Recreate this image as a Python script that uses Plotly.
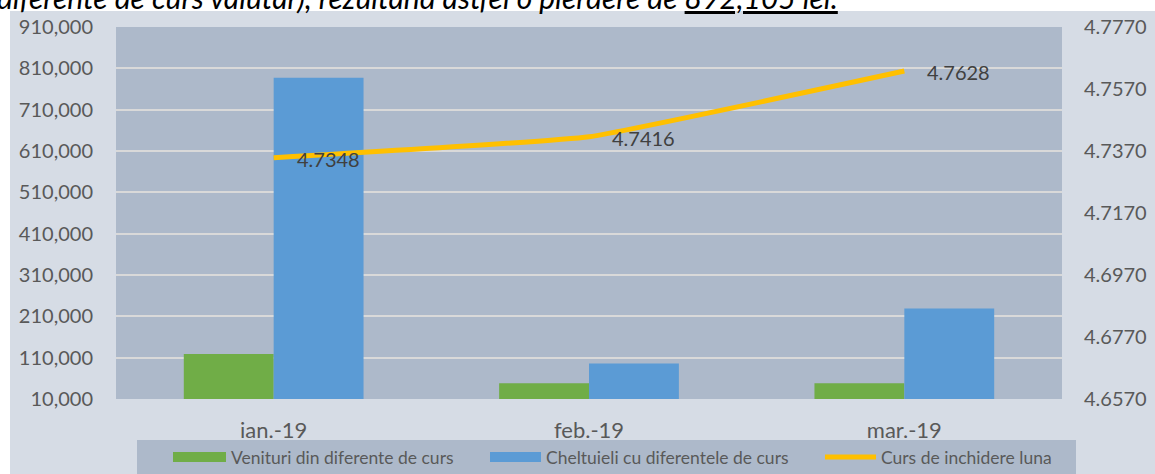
import plotly.graph_objects as go

# ---------------- data ----------------
categories = ["ian.-19", "feb.-19", "mar.-19"]
venituri = [119000, 48000, 48000]          # Venituri din diferente de curs
cheltuieli = [787000, 96000, 229000]       # Cheltuieli cu diferentele de curs
curs = [4.7348, 4.7416, 4.7628]            # Curs de inchidere luna
series_names = ["Venituri din diferente de curs",
                "Cheltuieli cu diferentele de curs",
                "Curs de inchidere luna"]
left_ticks = [10000, 110000, 210000, 310000, 410000, 510000, 610000, 710000, 810000, 910000]
right_ticks = [4.6570, 4.6770, 4.6970, 4.7170, 4.7370, 4.7570, 4.7770]
header_text = "diferente de curs valutar), rezultand astfel o pierdere de "
header_amount = "892,105 lei."

# ---------------- geometry helpers (layout only) ----------------
W, H = 1155, 474
L, R, T, B = 116, 1062, 27, 399


def px(x):
    return (x - L) / (R - L)


def py(y):
    return (B - y) / (B - T)


GREEN, BLUE, YELLOW = "#70ad47", "#5b9bd5", "#ffc000"
CHART_BG, PLOT_BG = "#d6dce5", "#adb9ca"
FONT = "Lato"

fig = go.Figure()
fig.add_trace(go.Bar(x=categories, y=venituri, name=series_names[0],
                     marker=dict(color=GREEN, line=dict(width=0))))
fig.add_trace(go.Bar(x=categories, y=cheltuieli, name=series_names[1],
                     marker=dict(color=BLUE, line=dict(width=0))))
fig.add_trace(go.Scatter(x=categories, y=curs, name=series_names[2], yaxis="y2",
                         mode="lines",
                         line=dict(color=YELLOW, width=5, shape="spline", smoothing=0.3)))

annotations = []
# data labels for the exchange-rate line
for c, v in zip(categories, curs):
    annotations.append(dict(x=c, y=v, xref="x", yref="y2", text=f"{v:.4f}",
                            showarrow=False, xanchor="left", yanchor="middle",
                            xshift=21, yshift=-1,
                            font=dict(family=FONT, size=20, color="#404040")))

# clipped header sentence above the chart
annotations.append(dict(x=px(-5), y=py(-3), xref="paper", yref="paper",
                        xanchor="left", yanchor="middle", showarrow=False,
                        text=f"<i>{header_text}<u>{header_amount}</u></i>",
                        font=dict(family=FONT, size=30, color="#000000")))

# custom legend
legend_y = 457
shapes = [
    # white strips outside chart area
    dict(type="rect", xref="paper", yref="paper", x0=px(0), x1=px(W), y0=py(11), y1=py(0),
         fillcolor="white", line=dict(width=0), layer="below"),
    dict(type="rect", xref="paper", yref="paper", x0=px(0), x1=px(10), y0=py(H), y1=py(0),
         fillcolor="white", line=dict(width=0), layer="below"),
    # legend box
    dict(type="rect", xref="paper", yref="paper", x0=px(137), x1=px(1076), y0=py(H + 5), y1=py(440),
         fillcolor=PLOT_BG, line=dict(width=0), layer="below"),
    dict(type="rect", xref="paper", yref="paper", x0=px(173), x1=px(226),
         y0=py(legend_y + 5), y1=py(legend_y - 5), fillcolor=GREEN, line=dict(width=0)),
    dict(type="rect", xref="paper", yref="paper", x0=px(490), x1=px(541),
         y0=py(legend_y + 5), y1=py(legend_y - 5), fillcolor=BLUE, line=dict(width=0)),
    dict(type="line", xref="paper", yref="paper", x0=px(825), x1=px(876),
         y0=py(legend_y), y1=py(legend_y), line=dict(color=YELLOW, width=5)),
]
for name, xpix in zip(series_names, [229, 544, 879]):
    annotations.append(dict(x=px(xpix), y=py(legend_y), xref="paper", yref="paper",
                            xanchor="left", yanchor="middle", showarrow=False, text=name,
                            font=dict(family=FONT, size=17.5, color="#595959")))

fig.update_layout(
    width=W, height=H,
    margin=dict(l=L, r=W - R, t=T, b=H - B, pad=0, autoexpand=False),
    paper_bgcolor=CHART_BG, plot_bgcolor=PLOT_BG,
    barmode="group", bargap=0.43, bargroupgap=0,
    showlegend=False,
    font=dict(family=FONT, size=20, color="#595959"),
    xaxis=dict(type="category", showgrid=False, zeroline=False, showline=False,
               ticks="", ticklabelstandoff=16, automargin=False,
               tickfont=dict(family=FONT, size=22, color="#595959")),
    yaxis=dict(range=[10000, 910000], tickvals=left_ticks, tickformat=",",
               showgrid=True, gridcolor="#d9d9d9", gridwidth=1.5, zeroline=False,
               showline=False, ticks="", ticklabelstandoff=22, automargin=False,
               tickfont=dict(family=FONT, size=20, color="#595959")),
    yaxis2=dict(range=[4.657, 4.777], tickvals=right_ticks,
                ticktext=[f"{t:.4f}" for t in right_ticks],
                overlaying="y", side="right", showgrid=False, zeroline=False,
                showline=False, ticks="", ticklabelstandoff=21, automargin=False,
                tickfont=dict(family=FONT, size=20, color="#595959")),
    annotations=annotations, shapes=shapes,
)

fig.write_html("out.html", config={"displayModeBar": False},
               post_script="document.body.style.margin='0';")
